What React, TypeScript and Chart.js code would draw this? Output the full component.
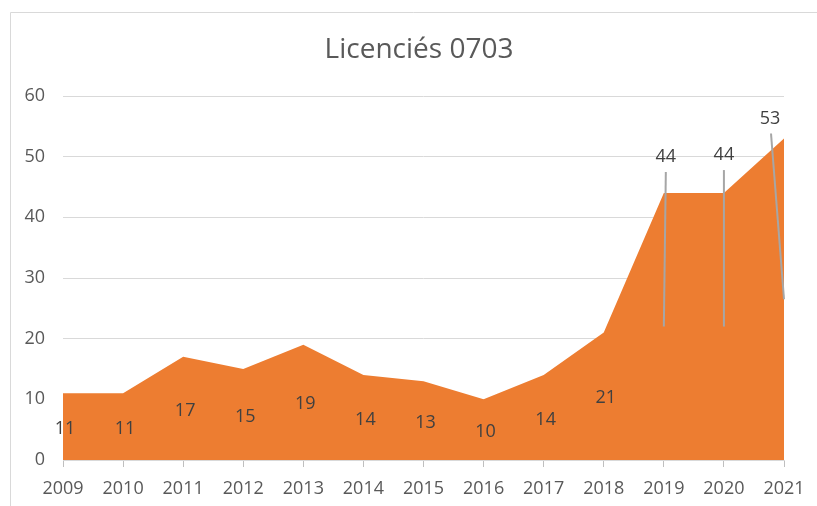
import React, { useEffect, useRef } from "react";
import { Chart, registerables } from "chart.js";

Chart.register(...registerables);

const years = ["2009", "2010", "2011", "2012", "2013", "2014", "2015", "2016", "2017", "2018", "2019", "2020", "2021"];
const licencies = [11, 11, 17, 15, 19, 14, 13, 10, 14, 21, 44, 44, 53];
const titleText = "Licenciés 0703";

const FONT = "'Open Sans', sans-serif";

// callout offsets (px) for labels drawn above the area with a leader line
const callouts: Record<number, { dx: number; dy: number }> = {
  10: { dx: 2, dy: 36 },
  11: { dx: 0, dy: 38 },
  12: { dx: -14, dy: 20 },
};

const frame = {
  id: "frame",
  beforeDraw(chart: any) {
    const ctx = chart.ctx;
    ctx.save();
    ctx.strokeStyle = "#d9d9d9";
    ctx.lineWidth = 1;
    ctx.beginPath();
    ctx.moveTo(10.5, 506);
    ctx.lineTo(10.5, 12.5);
    ctx.lineTo(817, 12.5);
    ctx.stroke();
    ctx.fillStyle = "#595959";
    ctx.font = `28px ${FONT}`;
    ctx.textAlign = "center";
    ctx.textBaseline = "middle";
    ctx.fillText(titleText, 419, 50);
    ctx.restore();
  },
};

const labels = {
  id: "areaLabels",
  afterDatasetsDraw(chart: any) {
    const ctx = chart.ctx;
    const xs = chart.scales.x;
    const ys = chart.scales.y;
    const data = chart.data.datasets[0].data as number[];
    ctx.save();
    ctx.font = `18px ${FONT}`;
    ctx.textAlign = "center";
    ctx.textBaseline = "middle";
    data.forEach((v, i) => {
      const x = xs.getPixelForValue(i);
      const c = callouts[i];
      if (c) {
        const lx = x + c.dx;
        const ly = ys.getPixelForValue(v) - c.dy;
        ctx.strokeStyle = "#a6a6a6";
        ctx.lineWidth = 2;
        ctx.beginPath();
        ctx.moveTo(lx + (c.dx < 0 ? 1 : 0), ly + 15);
        ctx.lineTo(x, ys.getPixelForValue(v / 2));
        ctx.stroke();
        ctx.fillStyle = "#404040";
        ctx.fillText(String(v), lx, ly);
      } else {
        ctx.fillStyle = "#404040";
        ctx.fillText(String(v), x + 2, ys.getPixelForValue(v / 2) + 2);
      }
    });
    ctx.restore();
  },
};

export default function App() {
  const ref = useRef<HTMLCanvasElement>(null);
  useEffect(() => {
    if (!ref.current) return;
    const chart = new Chart(ref.current, {
      type: "line",
      data: {
        labels: years,
        datasets: [
          {
            data: licencies,
            fill: "origin",
            backgroundColor: "#ED7D31",
            borderColor: "#ED7D31",
            borderWidth: 0,
            pointRadius: 0,
            tension: 0,
          },
        ],
      },
      options: {
        animation: false,
        responsive: false,
        layout: { padding: { left: 0, right: 33, top: 96, bottom: 0 } },
        plugins: {
          legend: { display: false },
          tooltip: { enabled: false },
          title: { display: false },
        },
        scales: {
          x: {
            offset: false,
            grid: {
              drawOnChartArea: false,
              drawTicks: true,
              tickLength: 7,
              color: "#bfbfbf",
            },
            border: { display: true, color: "#d9d9d9" },
            ticks: {
              color: "#595959",
              font: { family: FONT, size: 18 },
              padding: 11,
              maxRotation: 0,
              autoSkip: false,
            },
            afterFit(scale: any) {
              scale.height = 46;
            },
          },
          y: {
            min: 0,
            max: 60,
            ticks: {
              stepSize: 10,
              color: "#595959",
              font: { family: FONT, size: 18 },
              padding: 18,
            },
            grid: { color: "#d9d9d9", drawTicks: false, lineWidth: 1 },
            border: { display: false },
            afterFit(scale: any) {
              scale.width = 63;
            },
          },
        },
      },
      plugins: [frame, labels],
    });
    return () => chart.destroy();
  }, []);
  return (
    <div style={{ position: "fixed", left: 0, top: 0, width: 817, height: 506, background: "#fff" }}>
      <canvas ref={ref} width={817} height={506} style={{ width: 817, height: 506, display: "block" }} />
    </div>
  );
}
